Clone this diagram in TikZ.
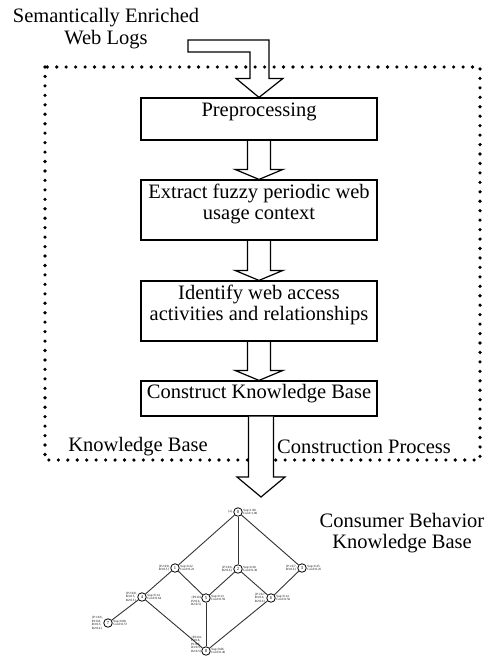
\documentclass[tikz,border=0pt]{standalone}
\usepackage{fontspec}
\setmainfont{Liberation Serif}
\usetikzlibrary{calc}
\tikzset{
  bigfont/.style={font=\fontsize{20.5}{21}\selectfont},
  stepbox/.style={draw, line width=1.2pt, minimum width=236pt, inner sep=0pt},
  steptext/.style={bigfont, align=center, inner sep=0pt},
  harrow/.style={draw, line width=1.2pt, line join=miter},
  dotborder/.style={line width=3.6pt, line cap=round, dash pattern=on 0pt off 9.45pt},
  lnode/.style={circle, draw, line width=0.8pt, minimum size=8.5pt, inner sep=0pt, font=\fontsize{4.5}{4.5}\selectfont},
  ltext/.style={font=\fontsize{3.2}{3.4}\selectfont, align=left, inner sep=0.6pt},
  ledge/.style={draw=black!80, line width=0.9pt}
}
\begin{document}
\begin{tikzpicture}[x=1pt,y=-1pt]
\useasboundingbox (0,0) rectangle (494,661);

% dotted frame
\draw[dotborder] (45,67) rectangle (480,460);

% title
\node[steptext, font=\fontsize{20.5}{22}\selectfont] (title) at (106,29) {Semantically Enriched\\Web Logs};
\coordinate (src) at (188,46);

% boxes
\node[stepbox, minimum height=42pt] (b1) at (259,119) {};
\node[stepbox, minimum height=60pt] (b2) at (259,210) {};
\node[stepbox, minimum height=60pt] (b3) at (259,311) {};
\node[stepbox, minimum height=35pt] (b4) at (259,398.5) {};

\node[steptext] (t1) at (259,112) {Preprocessing};
\node[steptext] (t2) at (259,203.5) {Extract fuzzy periodic web\\usage context};
\node[steptext] (t3) at (259,304.5) {Identify web access\\activities and relationships};
\node[steptext] (t4) at (259,394) {Construct Knowledge Base};

% frame labels
\node[steptext] (kb) at (138,447) {Knowledge Base};
\node[steptext] (cp) at (364,447) {Construction Process};

% result label
\node[steptext] (cb) at (402,533) {Consumer Behavior\\Knowledge Base};

% top bent arrow
\draw[harrow] let \p1=(src), \p2=(b1.north) in
  (\x1,\y1+6pt) -- (\x2+10pt,\y1+6pt) -- (\x2+10pt,\y2+19pt) -- (\x2+24pt,\y2+19pt)
  -- (\x2,\y2) -- (\x2-23pt,\y2+19pt) -- (\x2-9pt,\y2+19pt) -- (\x2-9pt,\y1-6pt)
  -- (\x1,\y1-6pt) -- cycle;

% step arrows
\foreach \a/\b in {b1/b2, b2/b3, b3/b4}{
  \draw[harrow] let \p1=(\a.south), \p2=(\b.north) in
    (\x1-11.5pt,\y1) -- (\x1-11.5pt,\y2+10pt) -- (\x1-24pt,\y2+10pt) -- (\x1,\y2)
    -- (\x1+24pt,\y2+10pt) -- (\x1+11.5pt,\y2+10pt) -- (\x1+11.5pt,\y1);
}

% final arrow
\coordinate (tipc) at (261,497);
\draw[harrow, fill=white] let \p1=(b4.south), \p2=(tipc) in
  (\x2-12.5pt,\y1) -- (\x2-12.5pt,\y2+20pt) -- (\x2-24pt,\y2+20pt) -- (\x2,\y2)
  -- (\x2+24pt,\y2+20pt) -- (\x2+12.5pt,\y2+20pt) -- (\x2+12.5pt,\y1);

% lattice
\node[lnode] (n0) at (238,512) {0};
\node[lnode] (n1) at (175,568) {1};
\node[lnode] (n2) at (238,569) {2};
\node[lnode] (n3) at (302,568) {3};
\node[lnode] (n4) at (142,597) {4};
\node[lnode] (n5) at (206,598) {5};
\node[lnode] (n6) at (271,598) {6};
\node[lnode] (n7) at (108,623) {7};
\node[lnode] (n8) at (206,651) {8};

\draw[ledge] (n0) -- (n1);
\draw[ledge] (n0) -- (n2);
\draw[ledge] (n0) -- (n3);
\draw[ledge] (n1) -- (n4);
\draw[ledge] (n1) -- (n5);
\draw[ledge] (n2) -- (n5);
\draw[ledge] (n2) -- (n6);
\draw[ledge] (n3) -- (n6);
\draw[ledge] (n4) -- (n7);
\draw[ledge] (n4) -- (n8);
\draw[ledge] (n5) -- (n8);
\draw[ledge] (n6) -- (n8);

% lattice labels
\node[ltext, anchor=east] (l0) at (n0.west) {\{a\}};
\node[ltext, anchor=west] (r0) at (n0.east) {Sup=1.00\\Conf=1.00};
\node[ltext, anchor=east] (l1) at (n1.west) {\{P2:0.8,\\R3:0.5\}};
\node[ltext, anchor=west] (r1) at (n1.east) {Sup=0.22\\Conf=0.22};
\node[ltext, anchor=east] (l2) at (n2.west) {\{P3:0.6,\\R2:0.6\}};
\node[ltext, anchor=west] (r2) at (n2.east) {Sup=0.30\\Conf=0.30};
\node[ltext, anchor=east] (l3) at (n3.west) {\{P1:0.7,\\R3:0.6\}};
\node[ltext, anchor=west] (r3) at (n3.east) {Sup=0.25\\Conf=0.25};
\node[ltext, anchor=east] (l4) at (n4.west) {\{P2:0.8,\\R3:0.5,\\R2:0.5\}};
\node[ltext, anchor=west] (r4) at (n4.east) {Sup=0.14\\Conf=0.64};
\node[ltext, anchor=north east] (l5) at ([yshift=-1pt]n5.north west) {\{P3:0.6,\\P2:0.6,\\R2:0.5\}};
\node[ltext, anchor=west] (r5) at (n5.east) {Sup=0.13\\Conf=0.59};
\node[ltext, anchor=east] (l6) at (n6.west) {\{P1:0.7,\\R3:0.6,\\R2:0.6\}};
\node[ltext, anchor=west] (r6) at (n6.east) {Sup=0.14\\Conf=0.56};
\node[ltext, anchor=east] (l7) at (n7.west) {\{P1:0.6,\\P2:0.8,\\R3:0.5,\\R2:0.4\}};
\node[ltext, anchor=west] (r7) at (n7.east) {Sup=0.08\\Conf=0.57};
\node[ltext, anchor=south east] (l8) at ([yshift=1pt]n8.south west) {\{P2:0.6,\\P3:0.6,\\P1:0.6,\\R3:0.5,\\R2:0.5\}};
\node[ltext, anchor=west] (r8) at (n8.east) {Sup=0.06\\Conf=0.46};
\end{tikzpicture}
\end{document}
